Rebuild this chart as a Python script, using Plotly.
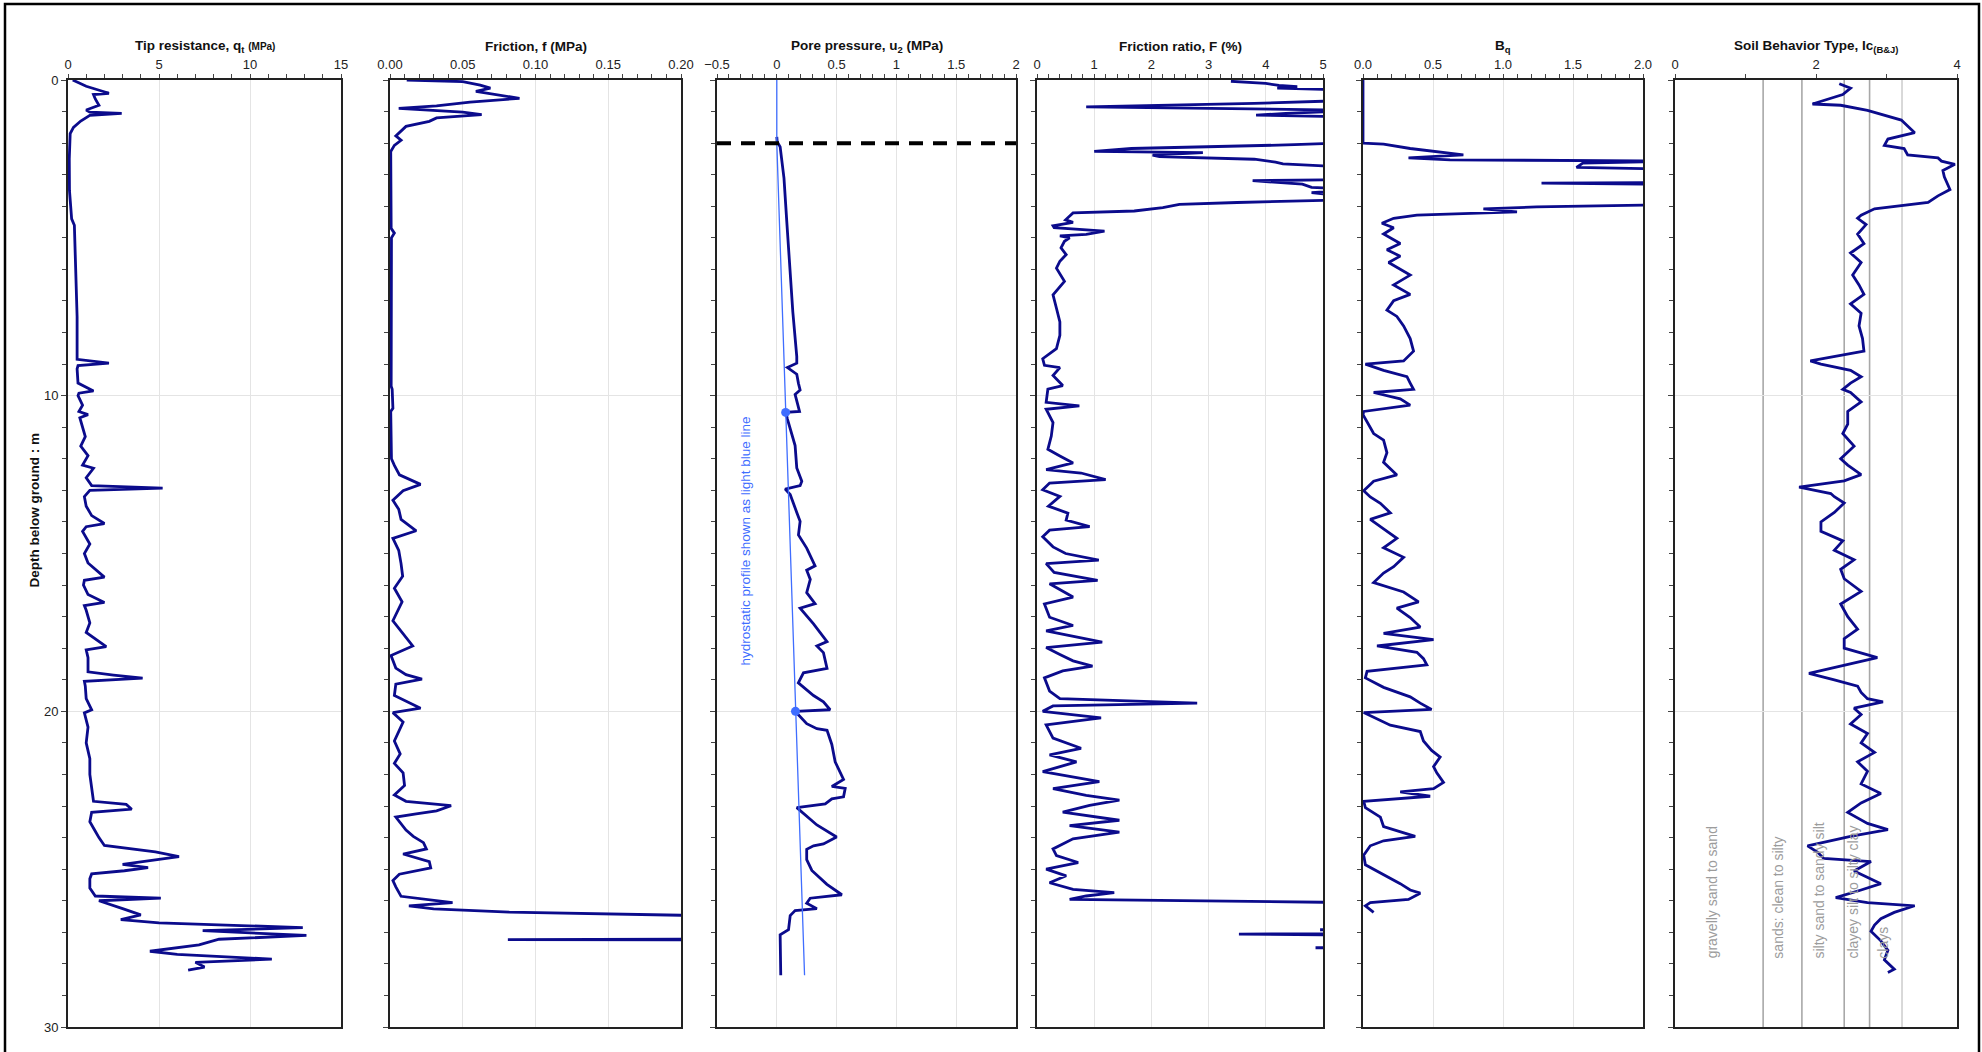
import plotly.graph_objects as go

FONT = "Arial, 'Liberation Sans', sans-serif"
NAVY = "#0b0b8c"
HYDRO = "#3f6dff"

# ---------------- data ----------------
qt_depth = [0.0, 0.2, 0.42, 0.46, 0.6, 0.8, 0.95, 1.02, 1.06, 1.12, 1.3, 1.5, 1.7, 2.5, 3.5, 4.4, 4.6, 5.5, 6.5,
            7.5, 8.5, 8.85, 8.97, 9.05, 9.15, 9.6, 9.85, 9.92, 10.0, 10.3, 10.5, 10.6, 10.7, 11.0, 11.3, 11.6, 11.9,
            12.2, 12.3, 12.6, 12.85, 12.93, 13.0, 13.2, 13.5, 13.8, 14.05, 14.15, 14.3, 14.7, 15.0, 15.3, 15.75,
            15.85, 16.0, 16.3, 16.55, 16.65, 16.8, 17.2, 17.5, 17.95, 18.05, 18.3, 18.75, 18.85, 18.95, 19.05, 19.2,
            19.6, 19.95, 20.05, 20.5, 21.0, 21.5, 22.0, 22.5, 22.85, 22.95, 23.1, 23.2, 23.5, 23.8, 24.0, 24.25,
            24.45, 24.6, 24.75, 24.85, 24.95, 25.05, 25.15, 25.3, 25.6, 25.85, 25.92, 26.0, 26.25, 26.45, 26.6,
            26.7, 26.85, 26.95, 27.1, 27.22, 27.4, 27.6, 27.7, 27.85, 27.95, 28.1, 28.2]
qt = [0.26, 1.0, 2.25, 1.4, 1.5, 1.7, 1.0, 1.2, 2.95, 1.2, 0.7, 0.3, 0.12, 0.07, 0.08, 0.2, 0.35, 0.4, 0.45,
      0.5, 0.5, 0.5, 2.25, 0.55, 0.5, 0.55, 1.4, 0.6, 0.55, 0.8, 0.6, 1.1, 0.65, 0.8, 0.95, 0.7, 1.1,
      0.8, 1.4, 1.0, 1.3, 5.2, 1.2, 0.9, 1.0, 1.3, 2.0, 1.0, 0.8, 1.2, 0.9, 1.1, 2.0,
      0.9, 0.85, 1.1, 2.0, 0.9, 1.0, 1.2, 1.0, 2.1, 1.0, 1.1, 1.1, 2.5, 4.1, 0.9, 0.95,
      1.0, 1.3, 0.9, 1.1, 1.0, 1.2, 1.2, 1.3, 1.4, 3.2, 3.5, 1.3, 1.2, 1.5, 1.7, 2.0,
      4.8, 6.1, 4.4, 3.0, 4.4, 3.1, 1.3, 1.2, 1.2, 1.5, 5.1, 1.7, 3.0, 4.0, 2.9,
      5.0, 12.9, 7.4, 13.1, 8.3, 7.2, 4.5, 6.0, 11.2, 7.0, 7.5, 6.6]

fs_depth = [0.0, 0.05, 0.16, 0.26, 0.36, 0.46, 0.58, 0.70, 0.82, 0.90, 1.02, 1.10, 1.20, 1.31, 1.47, 1.77, 1.91,
            2.07, 2.27, 4.7, 4.85, 5.0, 9.7, 9.8, 10.4, 10.5, 12.0, 12.21, 12.51, 12.81, 13.01, 13.31, 13.6, 13.92,
            14.28, 14.52, 14.9, 15.32, 15.72, 16.1, 16.53, 17.13, 17.43, 17.93, 18.23, 18.63, 18.84, 18.98, 19.14,
            19.5, 19.90, 20.04, 20.34, 20.94, 21.35, 21.65, 21.95, 22.35, 22.65, 22.85, 22.99, 23.15, 23.25, 23.35,
            23.76, 23.96, 24.16, 24.36, 24.52, 24.76, 24.96, 25.16, 25.36, 25.56, 25.86, 25.96, 26.06, 26.16, 26.26,
            26.36, 26.46, 26.5, 27.21, 27.23, 27.25, 28.2]
fs = [0.0115, 0.05, 0.062, 0.069, 0.059, 0.073, 0.089, 0.055, 0.032, 0.006, 0.05, 0.063, 0.032, 0.027, 0.011, 0.004,
      0.0076, 0.003, 0.0005, 0.0008, 0.003, 0.001, 0.0008, 0.0015, 0.002, 0.0005, 0.001, 0.003, 0.0065, 0.021, 0.009,
      0.002, 0.006, 0.0076, 0.018, 0.002, 0.006, 0.0076, 0.0087, 0.003, 0.0083, 0.002, 0.007, 0.0156, 0.0007, 0.004,
      0.011, 0.022, 0.004, 0.003, 0.021, 0.002, 0.009, 0.003, 0.007, 0.003, 0.009, 0.010, 0.003, 0.011, 0.042, 0.032,
      0.018, 0.004, 0.011, 0.016, 0.023, 0.025, 0.009, 0.027, 0.028, 0.0064, 0.002, 0.004, 0.0076, 0.027, 0.043,
      0.013, 0.03, 0.082, 0.2, 0.3, 0.3, 0.081, 0.3, 0.3]

u2_depth = [1.8, 1.95, 2.12, 3.11, 4.52, 5.94, 7.35, 8.76, 8.97, 9.11, 9.32, 9.61, 9.82, 9.96, 10.17, 10.38, 10.5,
            10.53, 10.74, 11.58, 12.29, 12.71, 12.85, 12.96, 13.13, 13.70, 13.98, 14.41, 14.83, 15.39, 15.53, 15.82,
            16.24, 16.59, 16.73, 17.23, 17.79, 17.93, 18.14, 18.64, 18.78, 19.1, 19.5, 19.7, 19.95, 20.0, 20.39, 20.55,
            20.6, 21.05, 21.6, 22.16, 22.38, 22.44, 22.71, 22.77, 22.93, 23.05, 23.6, 23.98, 24.2, 24.26, 24.37, 24.7,
            25.04, 25.48, 25.81, 25.92, 26.08, 26.25, 26.31, 26.47, 26.92, 27.08, 28.36]
u2 = [0.0, 0.003, 0.028, 0.06, 0.084, 0.106, 0.134, 0.167, 0.167, 0.089, 0.167, 0.181, 0.195, 0.153, 0.167, 0.181,
      0.19, 0.075, 0.089, 0.153, 0.167, 0.209, 0.195, 0.07, 0.112, 0.167, 0.195, 0.181, 0.25, 0.32, 0.25, 0.28,
      0.25, 0.32, 0.195, 0.307, 0.42, 0.335, 0.39, 0.42, 0.223, 0.18, 0.307, 0.39, 0.446, 0.153, 0.25, 0.335,
      0.42, 0.46, 0.488, 0.558, 0.46, 0.572, 0.558, 0.46, 0.405, 0.167, 0.335, 0.50, 0.39, 0.307, 0.25, 0.25,
      0.293, 0.419, 0.544, 0.279, 0.25, 0.335, 0.153, 0.112, 0.098, 0.028, 0.033]

hydro_depth = [0.0, 2.0, 28.36]
hydro_u = [0.0, 0.0, 0.232]
pts_depth = [10.53, 20.0]
pts_u = [0.074, 0.156]
water_table = 2.0

fr_depth = [0.04, 0.11, 0.17, 0.21, 0.26, 0.32, 0.64, 0.68, 0.74, 0.85, 0.88, 0.91, 0.96, 1.06, 1.11, 1.17, 1.98,
            2.05, 2.17, 2.26, 2.30, 2.38, 2.43, 2.51, 2.60, 2.66, 2.77, 3.15, 3.19, 3.30, 3.40, 3.47, 3.57, 3.72,
            3.79, 3.88, 3.94, 4.04, 4.15, 4.21, 4.30, 4.43, 4.51, 4.62, 4.68, 4.79, 4.89, 4.94, 5.0, 5.11, 5.32,
            5.53, 5.74, 5.96, 6.38, 6.81, 7.23, 7.66, 8.09, 8.51, 8.83, 9.04, 9.11, 9.36, 9.68, 9.79, 10.21, 10.32,
            10.43, 10.85, 11.28, 11.70, 11.91, 12.13, 12.34, 12.45, 12.66, 12.77, 12.98, 13.19, 13.5, 13.72, 13.94,
            14.15, 14.26, 14.47, 14.79, 15.0, 15.21, 15.32, 15.6, 15.85, 15.96, 16.38, 16.60, 17.02, 17.28, 17.45,
            17.81, 17.98, 18.2, 18.40, 18.57, 18.72, 18.94, 19.36, 19.6, 19.74, 19.83, 20.0, 20.21, 20.43, 20.85,
            21.17, 21.38, 21.60, 21.91, 22.23, 22.45, 22.66, 22.81, 22.98, 23.19, 23.45, 23.62, 23.83, 24.04, 24.36,
            24.57, 24.79, 25.0, 25.21, 25.43, 25.64, 25.74, 25.85, 25.96, 26.06, 26.87, 26.92, 26.97, 27.04, 27.06,
            27.09, 27.46, 27.49, 27.52, 28.2]
fr = [3.39, 4.0, 4.23, 4.55, 4.2, 5.6, 5.6, 4.96, 3.8, 0.86, 2.5, 3.2, 5.6, 4.35, 3.83, 5.6, 5.6,
      4.5, 1.65, 1.0, 2.9, 2.02, 2.14, 3.8, 4.17, 4.3, 5.6, 5.6, 3.77, 4.64, 4.8, 5.6, 4.8, 5.6,
      5.6, 3.5, 2.49, 2.2, 1.7, 0.63, 0.58, 0.5, 0.63, 0.28, 0.3, 1.18, 0.86, 0.4, 0.57, 0.48, 0.42,
      0.51, 0.4, 0.34, 0.48, 0.28, 0.34, 0.4, 0.4, 0.34, 0.1, 0.13, 0.4, 0.28, 0.45, 0.19, 0.16, 0.74,
      0.16, 0.28, 0.25, 0.19, 0.4, 0.63, 0.16, 0.77, 1.2, 0.22, 0.1, 0.4, 0.2, 0.54, 0.51,
      0.92, 0.22, 0.1, 0.28, 0.5, 1.08, 0.16, 0.3, 1.06, 0.22, 0.63, 0.13, 0.22, 0.63, 0.16,
      1.14, 0.16, 0.4, 0.63, 0.97, 0.45, 0.13, 0.22, 0.4, 2.8, 0.28, 0.1, 1.12, 0.16, 0.28,
      0.77, 0.22, 0.69, 0.1, 1.09, 0.28, 0.86, 1.44, 0.92, 0.45, 1.44, 0.57, 1.44, 0.63, 0.28,
      0.34, 0.72, 0.16, 0.51, 0.22, 0.63, 1.35, 0.86, 0.57, 5.6, 5.6, 4.95, 5.6, 5.6, 3.53,
      5.6, 5.6, 4.87, 5.6, 5.6]

bq_depth = [0.0, 2.0, 2.03, 2.17, 2.37, 2.47, 2.53, 2.57, 2.63, 2.77, 2.83, 3.25, 3.27, 3.31, 3.94, 4.02, 4.08, 4.18,
            4.28, 4.38, 4.54, 4.68, 4.88, 5.18, 5.38, 5.58, 5.78, 6.18, 6.49, 6.79, 6.99, 7.29, 7.49, 7.79, 8.19,
            8.59, 8.90, 9.0, 9.2, 9.4, 9.6, 9.8, 9.9, 10.1, 10.3, 10.5, 10.6, 11.2, 11.41, 11.81, 12.11, 12.51,
            12.71, 13.01, 13.21, 13.41, 13.71, 13.92, 14.22, 14.52, 14.82, 15.12, 15.42, 15.62, 15.92, 16.22, 16.53,
            16.73, 17.03, 17.33, 17.53, 17.73, 17.93, 18.13, 18.33, 18.53, 18.73, 18.94, 19.24, 19.54, 19.74, 19.94,
            20.04, 20.24, 20.44, 20.64, 20.94, 21.24, 21.45, 21.75, 21.95, 22.25, 22.45, 22.55, 22.69, 22.85, 23.05,
            23.35, 23.65, 23.96, 24.10, 24.26, 24.56, 24.86, 25.16, 25.46, 25.66, 25.76, 25.96, 26.06, 26.16, 26.37]
bq = [0.0, 0.0, 0.147, 0.337, 0.717, 0.325, 0.622, 2.3, 1.57, 1.525, 2.3, 2.3, 1.275, 2.3, 2.3, 1.24, 0.86, 1.10,
      0.385, 0.219, 0.135, 0.219, 0.147, 0.266, 0.171, 0.266, 0.183, 0.337, 0.219, 0.337, 0.219, 0.171, 0.242,
      0.29, 0.337, 0.361, 0.29, 0.017, 0.147, 0.314, 0.337, 0.361, 0.076, 0.266, 0.337, 0.005, 0.0, 0.076, 0.147,
      0.171, 0.147, 0.242, 0.076, 0.005, 0.052, 0.124, 0.195, 0.052, 0.147, 0.242, 0.147, 0.29, 0.219, 0.147,
      0.076, 0.29, 0.397, 0.242, 0.337, 0.409, 0.147, 0.504, 0.10, 0.385, 0.432, 0.456, 0.029, 0.017, 0.147,
      0.337, 0.409, 0.49, 0.005, 0.10, 0.195, 0.409, 0.432, 0.49, 0.551, 0.504, 0.527, 0.575, 0.504, 0.266,
      0.48, 0.005, 0.017, 0.124, 0.147, 0.373, 0.147, 0.052, 0.005, 0.017, 0.147, 0.266, 0.337, 0.409, 0.325,
      0.052, 0.017, 0.076]

ic_depth = [0.12, 0.26, 0.46, 0.76, 0.80, 0.96, 1.27, 1.47, 1.67, 1.87, 2.07, 2.17, 2.37, 2.47, 2.57, 2.67, 2.87,
            3.07, 3.47, 3.67, 3.88, 4.08, 4.28, 4.38, 4.58, 4.88, 5.18, 5.48, 5.78, 6.18, 6.49, 6.79, 7.09, 7.39,
            7.79, 8.19, 8.59, 8.9, 9.0, 9.2, 9.4, 9.6, 9.8, 9.9, 10.2, 10.5, 10.9, 11.2, 11.6, 12.0, 12.2, 12.5,
            12.7, 12.9, 13.1, 13.2, 13.4, 13.7, 14.0, 14.3, 14.6, 14.9, 15.2, 15.5, 15.8, 16.2, 16.6, 17.0, 17.4,
            17.7, 18.0, 18.3, 18.5, 18.8, 19.0, 19.2, 19.4, 19.6, 19.7, 19.9, 20.1, 20.4, 20.7, 21.0, 21.3, 21.6,
            21.9, 22.3, 22.6, 22.9, 23.2, 23.55, 23.75, 23.96, 24.26, 24.46, 24.66, 24.76, 25.06, 25.46, 25.66,
            25.9, 26.06, 26.16, 26.37, 26.57, 26.77, 26.97, 27.27, 27.57, 27.87, 28.17, 28.27]
ic = [2.33, 2.49, 2.38, 1.95, 2.35, 2.73, 3.21, 3.30, 3.40, 3.02, 2.97, 3.25, 3.30, 3.73, 3.78, 3.97, 3.80,
      3.82, 3.90, 3.73, 3.59, 2.83, 2.64, 2.59, 2.71, 2.59, 2.68, 2.49, 2.64, 2.52, 2.61, 2.68, 2.49, 2.64,
      2.61, 2.66, 2.68, 1.92, 2.07, 2.49, 2.64, 2.49, 2.38, 2.49, 2.64, 2.45, 2.45, 2.38, 2.54, 2.35, 2.45, 2.64,
      2.40, 1.76, 2.21, 2.26, 2.40, 2.26, 2.07, 2.07, 2.38, 2.26, 2.54, 2.35, 2.40, 2.64, 2.35, 2.45, 2.59,
      2.40, 2.40, 2.87, 2.49, 1.90, 2.26, 2.59, 2.64, 2.73, 2.95, 2.54, 2.64, 2.49, 2.73, 2.64, 2.83, 2.59,
      2.73, 2.64, 2.92, 2.64, 2.45, 2.73, 3.02, 2.49, 1.88, 2.02, 2.11, 2.78, 2.54, 2.92, 2.64,
      2.28, 2.73, 3.40, 3.11, 2.92, 2.83, 2.78, 2.92, 3.02, 2.97, 3.11, 3.02]

ic_bounds = [1.25, 1.80, 2.40, 2.76, 3.22]
zone_labels = ["gravelly sand to sand", "sands: clean to silty", "silty sand to sandy silt",
               "clayey silt to silty clay", "clays"]
zone_label_x = [0.52, 1.46, 2.04, 2.53, 2.95]

titles = ["Tip resistance, q<sub>t</sub> <span style='font-size:10px'>(MPa)</span>",
          "Friction, f (MPa)",
          "Pore pressure, u<sub>2</sub> (MPa)",
          "Friction ratio, F (%)",
          "B<sub>q</sub>",
          "Soil Behavior Type, Ic<sub>(B&amp;J)</sub>"]

# ---------------- layout geometry ----------------
W, H = 1982, 1052
ML, MR, MT, MB = 68, 25, 80, 25
PW, PH = W - ML - MR, H - MT - MB
panels_px = [(68, 341), (390, 681), (717, 1016), (1037, 1323), (1363, 1643), (1675, 1957)]
domains = [((a - ML) / PW, (b - ML) / PW) for a, b in panels_px]

def px_x(p):
    return (p - ML) / PW

def px_y(p):
    return (H - MB - p) / PH

fig = go.Figure()
series = [(qt, qt_depth), (fs, fs_depth), (u2, u2_depth), (fr, fr_depth), (bq, bq_depth), (ic, ic_depth)]
for i, (xv, yv) in enumerate(series):
    sfx = "" if i == 0 else str(i + 1)
    fig.add_trace(go.Scatter(x=xv, y=yv, mode="lines", line=dict(color=NAVY, width=2.8),
                             xaxis="x" + sfx, yaxis="y" + sfx, showlegend=False, hoverinfo="skip"))

fig.add_trace(go.Scatter(x=hydro_u, y=hydro_depth, mode="lines", line=dict(color=HYDRO, width=1.3),
                         xaxis="x3", yaxis="y3", showlegend=False, hoverinfo="skip"))
fig.add_trace(go.Scatter(x=pts_u, y=pts_depth, mode="markers", marker=dict(color=HYDRO, size=9),
                         xaxis="x3", yaxis="y3", showlegend=False, hoverinfo="skip"))

x_specs = [
    dict(range=[0, 15], tick0=0, dtick=5, minor=1, fmt=None),
    dict(range=[0, 0.2], tick0=0, dtick=0.05, minor=0.01, fmt=".2f"),
    dict(range=[-0.5, 2], tick0=-0.5, dtick=0.5, minor=0.1, fmt=None),
    dict(range=[0, 5], tick0=0, dtick=1, minor=0.2, fmt=None),
    dict(range=[0, 2], tick0=0, dtick=0.5, minor=0.1, fmt=".1f"),
    dict(range=[0, 4], tick0=0, dtick=2, minor=1, fmt=None),
]

layout = dict(width=W, height=H, margin=dict(l=ML, r=MR, t=MT, b=MB),
              paper_bgcolor="white", plot_bgcolor="white",
              font=dict(family=FONT, size=13, color="#222"), showlegend=False)

for i, spec in enumerate(x_specs):
    sfx = "" if i == 0 else str(i + 1)
    xa = dict(domain=list(domains[i]), range=spec["range"], side="top", anchor="y" + sfx,
              tickmode="linear", tick0=spec["tick0"], dtick=spec["dtick"],
              ticks="outside", ticklen=4, tickcolor="#444",
              showline=True, mirror=True, linecolor="#222", linewidth=2,
              showgrid=(i != 5), gridcolor="#e4e4e4", gridwidth=1, zeroline=False,
              tickfont=dict(family=FONT, size=13, color="#222"),
              minor=dict(tick0=spec["tick0"], dtick=spec["minor"], ticks="outside", ticklen=4,
                         tickcolor="#444", showgrid=False))
    if spec["fmt"]:
        xa["tickformat"] = spec["fmt"]
    layout["xaxis" + sfx] = xa
    ya = dict(domain=[0, 1], range=[30, 0], anchor="x" + sfx, tickmode="linear", tick0=0, dtick=10,
              ticks="outside", ticklen=5, tickcolor="#444", showticklabels=(i == 0),
              showline=True, mirror=True, linecolor="#222", linewidth=2,
              showgrid=True, gridcolor="#e4e4e4", gridwidth=1, zeroline=False,
              tickfont=dict(family=FONT, size=13, color="#222"),
              minor=dict(tick0=0, dtick=1, ticks="outside", ticklen=4, tickcolor="#444", showgrid=False))
    layout["yaxis" + sfx] = ya

fig.update_layout(**layout)

# panel titles
for i, t in enumerate(titles):
    fig.add_annotation(text="<b>" + t + "</b>", x=(domains[i][0] + domains[i][1]) / 2, y=px_y(47),
                       xref="paper", yref="paper", showarrow=False, xanchor="center", yanchor="middle",
                       font=dict(family=FONT, size=13.5, color="#111"))

fig.add_annotation(text="<b>Depth below ground : m</b>", x=px_x(25), y=px_y(510), xref="paper", yref="paper",
                   showarrow=False, textangle=-90, font=dict(family=FONT, size=13.5, color="#111"))

fig.add_annotation(text="hydrostatic profile shown as light blue line", x=-0.26, y=14.6, xref="x3", yref="y3",
                   showarrow=False, textangle=-90, font=dict(family=FONT, size=13.5, color=HYDRO))

for lbl, xl in zip(zone_labels, zone_label_x):
    fig.add_annotation(text=lbl, x=xl, y=27.9, xref="x6", yref="y6", showarrow=False, textangle=-90,
                       yanchor="bottom", font=dict(family=FONT, size=14, color="#9c9c9c"))

# water table
fig.add_shape(type="line", xref="x3 domain", yref="y3", x0=0, x1=1, y0=water_table, y1=water_table,
              line=dict(color="black", width=4, dash="14px,10px"))

# soil zone boundaries
for k, b in enumerate(ic_bounds):
    fig.add_shape(type="line", xref="x6", yref="y6 domain", x0=b, x1=b, y0=0, y1=1,
                  line=dict(color="#a8a8a8" if k < 4 else "#cfcfcf", width=1.6), layer="below")

# outer frame
fig.add_shape(type="rect", xref="paper", yref="paper", x0=px_x(5), x1=px_x(1979), y0=px_y(1075), y1=px_y(4),
              line=dict(color="black", width=2.5), fillcolor="rgba(0,0,0,0)")

fig.write_html("out.html", config={"displayModeBar": False},
               post_script="document.body.style.margin='0';document.body.style.overflow='hidden';")
